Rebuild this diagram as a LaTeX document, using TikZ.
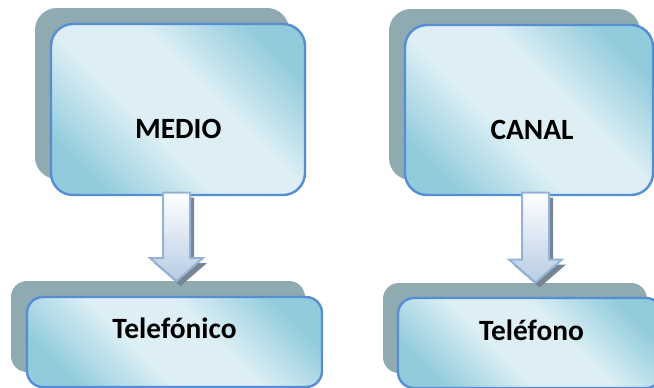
\documentclass[tikz,border=0pt]{standalone}
\usepackage{fontspec}
\setmainfont{Carlito}
\usetikzlibrary{calc}
\definecolor{shadowgray}{RGB}{143,170,176}
\definecolor{boxborder}{RGB}{85,142,213}
\definecolor{boxdark}{RGB}{146,204,220}
\definecolor{boxlight}{RGB}{221,239,245}
\definecolor{arrborder}{RGB}{149,179,215}
\definecolor{arrfill}{RGB}{184,204,228}
\definecolor{arrshadow}{RGB}{118,132,148}
\pgfdeclareverticalshading{boxshade}{100bp}{color(0bp)=(boxdark); color(24bp)=(boxdark); color(42bp)=(boxlight); color(58bp)=(boxlight); color(76bp)=(boxdark); color(100bp)=(boxdark)}
\newcommand{\blockarr}[2]{%
  \fill[arrshadow] ($(#1)+(-9.5,5)$) -- ($(#2)+(-9.5,-18)$) -- ($(#2)+(-22.5,-18)$) -- ($(#2)+(4,5)$)
     -- ($(#2)+(30.5,-18)$) -- ($(#2)+(17.5,-18)$) -- ($(#1)+(17.5,5)$) -- cycle;
  \draw[arrowbody] ($(#1)+(-13.5,0)$) -- ($(#2)+(-13.5,-23)$) -- ($(#2)+(-26.5,-23)$) -- (#2)
     -- ($(#2)+(26.5,-23)$) -- ($(#2)+(13.5,-23)$) -- ($(#1)+(13.5,0)$) -- cycle;
}
\begin{document}
\begin{tikzpicture}[x=1pt,y=-1pt,
  backbox/.style={fill=shadowgray, inner sep=0pt, outer sep=0pt},
  frontbox/.style={draw=boxborder, line width=2.4pt, inner sep=0pt, outer sep=0pt,
    shade, shading=boxshade, shading angle=-45},
  lbl/.style={anchor=base, font=\bfseries\fontsize{29.4}{35}\selectfont, text=black, inner sep=0pt},
  arrowbody/.style={draw=arrborder, line width=2pt, line join=miter, top color=white, bottom color=arrfill}]
\useasboundingbox (0,0) rectangle (654,388);
\clip (0,0) rectangle (654,388);
\fill[white] (0,0) rectangle (654,388);
% upper left
\node[backbox, rounded corners=22pt, minimum width=254pt, minimum height=171pt] (medioshadow) at (162,93.5) {};
\node[frontbox, rounded corners=22pt, minimum width=254pt, minimum height=171pt] (medio) at (178,109.5) {};
\node[lbl] (mediotext) at (178.3,138) {MEDIO};
% upper right
\node[backbox, rounded corners=22pt, minimum width=251pt, minimum height=171pt] (canalshadow) at (514.5,94.5) {};
\node[frontbox, rounded corners=22pt, minimum width=248pt, minimum height=170pt] (canal) at (529,110) {};
\node[lbl] (canaltext) at (532,139.3) {CANAL};
% lower left
\node[backbox, rounded corners=16pt, minimum width=294pt, minimum height=91pt] (telefsh) at (158,326.5) {};
\node[frontbox, rounded corners=16pt, minimum width=295pt, minimum height=90pt] (telef) at (174.5,342) {};
\node[lbl] (telefext) at (174.5,338) {Telefónico};
% lower right
\node[backbox, rounded corners=16pt, minimum width=264pt, minimum height=90pt] (fonosh) at (515,328) {};
\node[frontbox, rounded corners=16pt, minimum width=264pt, minimum height=90pt] (fono) at (530,343) {};
\node[lbl] (fonotext) at (531.5,340) {Teléfono};
% arrows
\coordinate (a1top) at ($(medio.south)+(-1.5,-2.5)$);
\coordinate (a1tip) at (a1top |- telefsh.north);
\coordinate (a2top) at ($(canal.south)+(6.5,-2.5)$);
\coordinate (a2tip) at ($(a2top |- fonosh.north)+(0,-0.5)$);
\blockarr{a1top}{a1tip}
\blockarr{a2top}{a2tip}
\end{tikzpicture}
\end{document}
